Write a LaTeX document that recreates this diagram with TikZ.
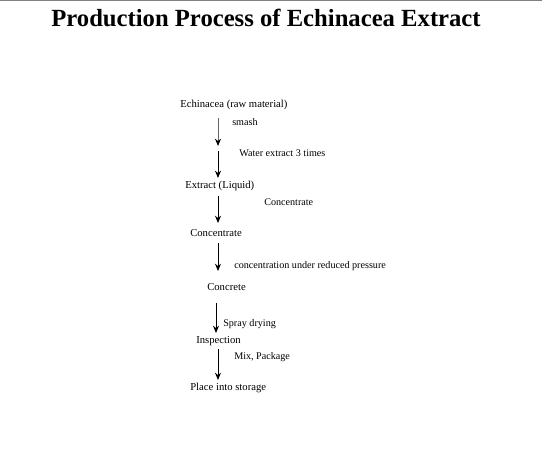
\documentclass[tikz,border=0pt]{standalone}
\usepackage{fontspec}
\setmainfont{Liberation Serif}
\usetikzlibrary{arrows.meta}
\tikzset{
  stage/.style={anchor=west,inner sep=0pt,font=\fontsize{8}{9}\selectfont},
  work/.style={anchor=west,inner sep=0pt,font=\fontsize{7.6}{9}\selectfont},
  flow/.style={-{Stealth[length=5.5pt,width=4.5pt,black]},line width=0.7pt}
}

\begin{document}
\begin{tikzpicture}[x=0.75pt,y=-0.75pt]
\useasboundingbox (0,0) rectangle (560,462);
\draw[gray,line width=1.2pt] (0,0.6) -- (542,0.6);

\node[font=\fontsize{18.5}{22}\selectfont\bfseries] (title) at (266,18) {Production Process of Echinacea Extract};

% stages
\node[stage] (raw) at (180,105) {Echinacea (raw material)};
\node[stage] (extract) at (185,186) {Extract (Liquid)};
\node[stage] (conc) at (190,233) {Concentrate};
\node[stage] (concrete) at (207,287) {Concrete};
\node[stage] (inspect) at (196,341) {Inspection};
\node[stage] (store) at (190,388) {Place into storage};

% steps
\node[work] (smash) at (232,122) {smash};
\node[work] (water) at (239,153) {Water extract 3 times};
\node[work] (concstep) at (264,202) {Concentrate};
\node[work] (vacuum) at (234,266) {concentration under reduced pressure};
\node[work] (spray) at (223,324) {Spray drying};
\node[work] (pack) at (234,357) {Mix, Package};

\coordinate (a1) at (218,118);  \coordinate (b1) at (218,146);
\coordinate (a2) at (218,151);  \coordinate (b2) at (218,178);
\coordinate (a3) at (218,196);  \coordinate (b3) at (218,223);
\coordinate (a4) at (218,243);  \coordinate (b4) at (218,271);
\coordinate (a5) at (216,303);  \coordinate (b5) at (216,333);
\coordinate (a6) at (218,349);  \coordinate (b6) at (218,380);

\draw[flow,black!60] (a1) -- (b1);
\foreach \i in {2,...,6}
  \draw[flow] (a\i) -- (b\i);

\end{tikzpicture}
\end{document}
